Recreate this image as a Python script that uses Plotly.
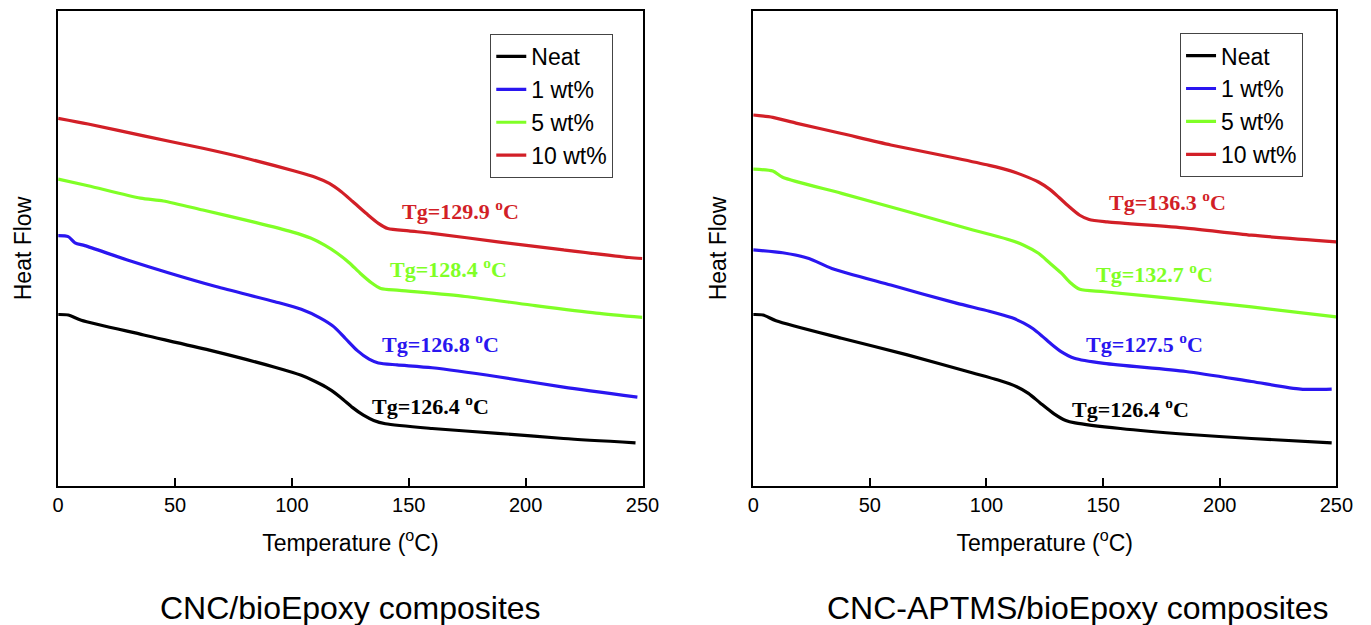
import plotly.graph_objects as go

# ---------------- data (heat flow in arbitrary units) -------------
series_names = ["Neat", "1 wt%", "5 wt%", "10 wt%"]
series_colors = ["#000000", "#2a16f0", "#80ff26", "#d21f27"]

# Left panel: CNC/bioEpoxy composites
L_neat_T = [0, 4.3, 9.9, 36.6, 64.7, 92.7, 104, 110, 116, 121, 126, 130.6, 135, 140, 160, 188.1, 216.2, 247]
L_neat_H = [0.361, 0.360, 0.349, 0.318, 0.286, 0.250, 0.233, 0.220, 0.204, 0.186, 0.165, 0.149, 0.138, 0.131, 0.121, 0.111, 0.100, 0.091]
L_1_T = [0, 4.3, 7.2, 11.4, 29.6, 47.8, 67.5, 92.7, 104, 112, 118, 123, 128, 133, 137, 145, 160, 188.1, 216.2, 247.8]
L_1_H = [0.527, 0.525, 0.512, 0.506, 0.476, 0.448, 0.420, 0.388, 0.372, 0.354, 0.335, 0.310, 0.285, 0.267, 0.259, 0.255, 0.249, 0.230, 0.208, 0.187]
L_5_T = [0, 12.8, 35.2, 45, 61.9, 84.3, 100, 108, 114, 119.4, 124.5, 129.2, 134, 138, 146, 174.1, 202.2, 230.2, 249.9]
L_5_H = [0.646, 0.632, 0.606, 0.600, 0.581, 0.555, 0.535, 0.522, 0.507, 0.490, 0.470, 0.448, 0.428, 0.416, 0.412, 0.399, 0.381, 0.364, 0.355]
L_10_T = [0, 12.8, 36.6, 61.9, 78.7, 101.1, 110, 116, 121, 126, 132, 137, 141, 150, 160, 188.1, 216.2, 244.2, 249.9]
L_10_H = [0.774, 0.762, 0.737, 0.711, 0.692, 0.663, 0.650, 0.637, 0.620, 0.599, 0.573, 0.553, 0.542, 0.537, 0.532, 0.514, 0.497, 0.481, 0.479]
L_tg = ["126.4", "126.8", "128.4", "129.9"]
L_tg_T = [159.4, 163.6, 167.1, 172.0]
L_tg_H = [0.171, 0.300, 0.458, 0.581]

# Right panel: CNC-APTMS/bioEpoxy composites
R_neat_T = [0, 4.2, 9.8, 37.9, 66.1, 94.2, 105, 113, 118, 123, 129, 134, 138, 157.4, 185.5, 213.6, 248]
R_neat_H = [0.361, 0.360, 0.348, 0.311, 0.276, 0.238, 0.223, 0.209, 0.195, 0.175, 0.152, 0.138, 0.133, 0.121, 0.109, 0.100, 0.091]
R_1_T = [0, 12.6, 23.9, 33.7, 59, 87.1, 101.2, 111, 116, 120, 124, 128, 132, 137.7, 150.4, 185.5, 213.6, 234.7, 248]
R_1_H = [0.497, 0.491, 0.479, 0.458, 0.423, 0.385, 0.368, 0.354, 0.343, 0.331, 0.315, 0.298, 0.283, 0.269, 0.258, 0.241, 0.220, 0.204, 0.204]
R_5_T = [0, 8.4, 12.6, 37.9, 66.1, 94.2, 101.2, 110, 116, 122.3, 127, 132.1, 136, 140, 150.4, 185.5, 213.6, 249.9]
R_5_H = [0.667, 0.663, 0.650, 0.616, 0.578, 0.539, 0.530, 0.518, 0.507, 0.490, 0.470, 0.448, 0.428, 0.414, 0.409, 0.392, 0.377, 0.356]
R_10_T = [0, 8.4, 18.3, 37.9, 59, 87.1, 101.2, 110, 115.2, 122.3, 127, 131, 135, 140, 144, 151.8, 185.5, 213.6, 249.9]
R_10_H = [0.781, 0.776, 0.764, 0.742, 0.718, 0.690, 0.675, 0.664, 0.655, 0.640, 0.625, 0.608, 0.590, 0.570, 0.561, 0.556, 0.543, 0.528, 0.514]
R_tg = ["126.4", "127.5", "132.7", "136.3"]
R_tg_T = [161.6, 167.9, 172.2, 177.8]
R_tg_H = [0.164, 0.300, 0.448, 0.599]

x_ticks = [0, 50, 100, 150, 200, 250]
panel_titles = ["CNC/bioEpoxy composites", "CNC-APTMS/bioEpoxy composites"]
x_title = "Temperature (<sup>o</sup>C)"
y_title = "Heat Flow"

# ---------------- figure ----------------
fig = go.Figure()
SANS = "Liberation Sans, Arial, sans-serif"
SERIF = "Liberation Serif, Times New Roman, serif"

left = [(L_neat_T, L_neat_H), (L_1_T, L_1_H), (L_5_T, L_5_H), (L_10_T, L_10_H)]
right = [(R_neat_T, R_neat_H), (R_1_T, R_1_H), (R_5_T, R_5_H), (R_10_T, R_10_H)]

for (tx, hy), name, col in zip(left, series_names, series_colors):
    fig.add_trace(go.Scatter(x=tx, y=hy, mode="lines", name=name,
                             line=dict(color=col, width=3.2, shape="spline", smoothing=0.7),
                             xaxis="x", yaxis="y", legend="legend"))
for (tx, hy), name, col in zip(right, series_names, series_colors):
    fig.add_trace(go.Scatter(x=tx, y=hy, mode="lines", name=name,
                             line=dict(color=col, width=3.2, shape="spline", smoothing=0.7),
                             xaxis="x2", yaxis="y2", legend="legend2"))

annotations = []
for tg, tx, hy, col in zip(L_tg, L_tg_T, L_tg_H, series_colors):
    annotations.append(dict(x=tx, y=hy, xref="x", yref="y", text=f"<b>Tg={tg} <sup>o</sup>C</b>", showarrow=False,
                            font=dict(family=SERIF, size=22, color=col), xanchor="center", yanchor="middle"))
for tg, tx, hy, col in zip(R_tg, R_tg_T, R_tg_H, series_colors):
    annotations.append(dict(x=tx, y=hy, xref="x2", yref="y2", text=f"<b>Tg={tg} <sup>o</sup>C</b>", showarrow=False,
                            font=dict(family=SERIF, size=22, color=col), xanchor="center", yanchor="middle"))
annotations.append(dict(x=0.2553, y=0.027, xref="paper", yref="paper", text=panel_titles[0], showarrow=False,
                        font=dict(family=SANS, size=32, color="black"), xanchor="center", yanchor="middle"))
annotations.append(dict(x=0.795, y=0.027, xref="paper", yref="paper", text=panel_titles[1], showarrow=False,
                        font=dict(family=SANS, size=32, color="black"), xanchor="center", yanchor="middle"))

xax = dict(range=[0, 250], tickvals=x_ticks, ticks="inside", ticklen=8, tickwidth=1.5, tickcolor="black",
           showline=True, linecolor="black", linewidth=1.5, mirror=True, showgrid=False, zeroline=False,
           tickfont=dict(family=SANS, size=20, color="black"),
           title=dict(text=x_title, font=dict(family=SANS, size=23, color="black"), standoff=20))
yax = dict(range=[0, 1], showticklabels=False, ticks="", showline=True, linecolor="black", linewidth=1.5, mirror=True,
           showgrid=False, zeroline=False,
           title=dict(text=y_title, font=dict(family=SANS, size=23, color="black"), standoff=18))

leg = dict(font=dict(family=SANS, size=23, color="black"), bordercolor="#444444", borderwidth=1, bgcolor="white",
           xanchor="right", yanchor="top", tracegroupgap=0)

fig.update_layout(
    width=1371, height=625, margin=dict(l=0, r=0, t=0, b=0),
    paper_bgcolor="white", plot_bgcolor="white",
    xaxis=dict(xax, domain=[0.0387, 0.4722], anchor="y"),
    yaxis=dict(yax, domain=[0.2224, 0.9824], anchor="x"),
    xaxis2=dict(xax, domain=[0.5543, 0.9869], anchor="y2"),
    yaxis2=dict(yax, domain=[0.2224, 0.9824], anchor="x2"),
    legend=dict(leg, x=0.4505, y=0.9456),
    legend2=dict(leg, x=0.9622, y=0.947),
    annotations=annotations,
    showlegend=True,
)

fig.write_html("out.html")
